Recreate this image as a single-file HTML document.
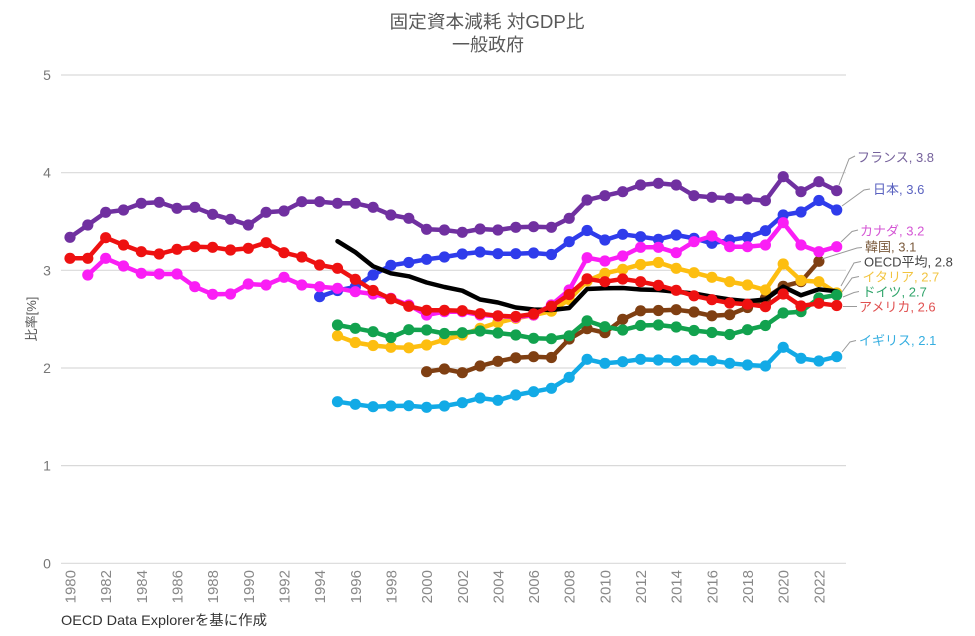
<!DOCTYPE html>
<html>
<head>
<meta charset="utf-8">
<style>
html,body{margin:0;padding:0;background:#fff;}
svg{display:block;}
text{font-family:"Liberation Sans","Noto Sans CJK JP",sans-serif;}
</style>
</head>
<body>
<svg width="975" height="636" viewBox="0 0 975 636" xmlns="http://www.w3.org/2000/svg">
<defs>
<marker id="mFr" markerUnits="userSpaceOnUse" viewBox="0 0 12 12" refX="6" refY="6" markerWidth="12" markerHeight="12"><circle cx="6" cy="6" r="5.6" fill="#7030A0"/></marker>
<marker id="mJp" markerUnits="userSpaceOnUse" viewBox="0 0 12 12" refX="6" refY="6" markerWidth="12" markerHeight="12"><circle cx="6" cy="6" r="5.6" fill="#2F3CEB"/></marker>
<marker id="mCa" markerUnits="userSpaceOnUse" viewBox="0 0 12 12" refX="6" refY="6" markerWidth="12" markerHeight="12"><circle cx="6" cy="6" r="5.6" fill="#FA1EF5"/></marker>
<marker id="mUs" markerUnits="userSpaceOnUse" viewBox="0 0 12 12" refX="6" refY="6" markerWidth="12" markerHeight="12"><circle cx="6" cy="6" r="5.6" fill="#EE1111"/></marker>
<marker id="mIt" markerUnits="userSpaceOnUse" viewBox="0 0 12 12" refX="6" refY="6" markerWidth="12" markerHeight="12"><circle cx="6" cy="6" r="5.6" fill="#FDBE10"/></marker>
<marker id="mDe" markerUnits="userSpaceOnUse" viewBox="0 0 12 12" refX="6" refY="6" markerWidth="12" markerHeight="12"><circle cx="6" cy="6" r="5.6" fill="#12A24E"/></marker>
<marker id="mKr" markerUnits="userSpaceOnUse" viewBox="0 0 12 12" refX="6" refY="6" markerWidth="12" markerHeight="12"><circle cx="6" cy="6" r="5.6" fill="#7F3F12"/></marker>
<marker id="mUk" markerUnits="userSpaceOnUse" viewBox="0 0 12 12" refX="6" refY="6" markerWidth="12" markerHeight="12"><circle cx="6" cy="6" r="5.6" fill="#12AAE6"/></marker>
</defs>

<!-- Title -->
<text x="487" y="28" font-size="18" fill="#595959" text-anchor="middle" textLength="195" lengthAdjust="spacingAndGlyphs">固定資本減耗 対GDP比</text>
<text x="488" y="51" font-size="18" fill="#595959" text-anchor="middle">一般政府</text>

<!-- Gridlines -->
<g stroke="#d9d9d9" stroke-width="1.2">
<line x1="61" y1="75" x2="846" y2="75"/>
<line x1="61" y1="172.7" x2="846" y2="172.7"/>
<line x1="61" y1="270.3" x2="846" y2="270.3"/>
<line x1="61" y1="368" x2="846" y2="368"/>
<line x1="61" y1="465.6" x2="846" y2="465.6"/>
<line x1="61" y1="563.3" x2="846" y2="563.3"/>
</g>

<!-- Y tick labels -->
<g font-size="14" fill="#777" text-anchor="middle">
<text x="47" y="80">5</text>
<text x="47" y="177.7">4</text>
<text x="47" y="275.3">3</text>
<text x="47" y="373">2</text>
<text x="47" y="470.6">1</text>
<text x="47" y="568.3">0</text>
</g>

<!-- Y axis title -->
<text transform="translate(36,319) rotate(-90)" font-size="13" fill="#555" text-anchor="middle">比率[%]</text>

<!-- X tick labels -->
<g font-size="15" fill="#888" text-anchor="end">
<text transform="translate(75.5,570) rotate(-90)">1980</text>
<text transform="translate(111.2,570) rotate(-90)">1982</text>
<text transform="translate(146.8,570) rotate(-90)">1984</text>
<text transform="translate(182.5,570) rotate(-90)">1986</text>
<text transform="translate(218.1,570) rotate(-90)">1988</text>
<text transform="translate(253.8,570) rotate(-90)">1990</text>
<text transform="translate(289.5,570) rotate(-90)">1992</text>
<text transform="translate(325.1,570) rotate(-90)">1994</text>
<text transform="translate(360.8,570) rotate(-90)">1996</text>
<text transform="translate(396.4,570) rotate(-90)">1998</text>
<text transform="translate(432.1,570) rotate(-90)">2000</text>
<text transform="translate(467.8,570) rotate(-90)">2002</text>
<text transform="translate(503.4,570) rotate(-90)">2004</text>
<text transform="translate(539.1,570) rotate(-90)">2006</text>
<text transform="translate(574.7,570) rotate(-90)">2008</text>
<text transform="translate(610.4,570) rotate(-90)">2010</text>
<text transform="translate(646.1,570) rotate(-90)">2012</text>
<text transform="translate(681.7,570) rotate(-90)">2014</text>
<text transform="translate(717.4,570) rotate(-90)">2016</text>
<text transform="translate(753.0,570) rotate(-90)">2018</text>
<text transform="translate(788.7,570) rotate(-90)">2020</text>
<text transform="translate(824.4,570) rotate(-90)">2022</text>
</g>

<!-- Source -->
<text x="61" y="625" font-size="14" fill="#333" textLength="206" lengthAdjust="spacingAndGlyphs">OECD Data Explorerを基に作成</text>

<!-- Series -->
<g fill="none" stroke-width="4.5" stroke-linejoin="round" stroke-linecap="round">
<!-- France -->
<polyline stroke="#7030A0" marker-start="url(#mFr)" marker-mid="url(#mFr)" marker-end="url(#mFr)" points="70.0,237.3 87.8,225 105.7,212.3 123.5,210 141.3,203.3 159.2,202.3 177.0,208.3 194.8,207.3 212.6,214.3 230.5,219.3 248.3,225 266.1,212.3 284.0,211 301.8,201.7 319.6,201.7 337.5,203.3 355.3,203.3 373.1,207.3 390.9,215 408.8,218.3 426.6,229.3 444.4,230 462.3,232.3 480.1,229 497.9,230 515.8,227.3 533.6,226.7 551.4,227.3 569.2,218.3 587.1,200 604.9,195.7 622.7,191.7 640.6,185 658.4,183.3 676.2,185 694.0,195.7 711.9,197.3 729.7,198.3 747.5,199 765.4,200.7 783.2,176.7 801.0,191.7 818.9,181.7 836.7,190.7"/>
<!-- Korea -->
<polyline stroke="#7F3F12" marker-start="url(#mKr)" marker-mid="url(#mKr)" marker-end="url(#mKr)" points="426.6,371.7 444.4,369 462.3,372.7 480.1,366 497.9,361.3 515.8,357.8 533.6,356.7 551.4,357.5 569.2,339 587.1,328.7 604.9,332.7 622.7,319.3 640.6,310.8 658.4,310.5 676.2,309.7 694.0,312 711.9,315.8 729.7,314.7 747.5,307.5 765.4,298.3 783.2,286.3 801.0,281.7 818.9,261.3"/>
<!-- Italy -->
<polyline stroke="#FDBE10" marker-start="url(#mIt)" marker-mid="url(#mIt)" marker-end="url(#mIt)" points="337.5,335.8 355.3,342.5 373.1,345.5 390.9,347.3 408.8,347.8 426.6,345 444.4,339.7 462.3,335 480.1,328.3 497.9,322.5 515.8,318.3 533.6,315 551.4,311.2 569.2,299.5 587.1,281 604.9,273.3 622.7,269.3 640.6,264.5 658.4,262.5 676.2,268.3 694.0,272.7 711.9,277.3 729.7,281.7 747.5,285 765.4,290 783.2,264 801.0,280.5 818.9,281.7 836.7,293"/>
<!-- Japan -->
<polyline stroke="#2F3CEB" marker-start="url(#mJp)" marker-mid="url(#mJp)" marker-end="url(#mJp)" points="319.6,296.7 337.5,290.5 355.3,287 373.1,275 390.9,265.3 408.8,262.5 426.6,259.3 444.4,257 462.3,254 480.1,252 497.9,253.7 515.8,253.7 533.6,253 551.4,254.5 569.2,241.7 587.1,230.5 604.9,240 622.7,234.3 640.6,236.7 658.4,239.3 676.2,235 694.0,238.3 711.9,243.3 729.7,240 747.5,237.3 765.4,230.7 783.2,215 801.0,212 818.9,200.5 836.7,210"/>
<!-- Canada -->
<polyline stroke="#FA1EF5" marker-start="url(#mCa)" marker-mid="url(#mCa)" marker-end="url(#mCa)" points="87.8,275 105.7,258.3 123.5,266 141.3,273.3 159.2,274 177.0,274 194.8,286.7 212.6,294.3 230.5,294 248.3,284 266.1,285 284.0,277.3 301.8,285 319.6,286.7 337.5,288.3 355.3,291.7 373.1,294 390.9,298.3 408.8,305 426.6,315 444.4,311.7 462.3,311.7 480.1,315 497.9,316 515.8,317.3 533.6,315 551.4,305 569.2,290 587.1,257.7 604.9,261 622.7,256 640.6,247.3 658.4,247.3 676.2,252.7 694.0,241.7 711.9,236 729.7,246.7 747.5,246.7 765.4,245 783.2,222.7 801.0,245 818.9,251.7 836.7,246.7"/>
<!-- OECD average -->
<polyline stroke="#000" stroke-width="4.5" points="337.5,241.2 355.3,252.2 373.1,266.3 390.9,273.3 408.8,276.3 426.6,282.5 444.4,287 462.3,290.7 480.1,299.5 497.9,302.5 515.8,307.5 533.6,309.5 551.4,310 569.2,308 587.1,289 604.9,288.3 622.7,288 640.6,289.5 658.4,290 676.2,291.7 694.0,293.5 711.9,296.7 729.7,299.5 747.5,301.2 765.4,299.5 783.2,286.7 801.0,295.3 818.9,289.3 836.7,291.3"/>
<!-- Germany -->
<polyline stroke="#12A24E" marker-start="url(#mDe)" marker-mid="url(#mDe)" marker-end="url(#mDe)" points="337.5,325 355.3,328.3 373.1,331.7 390.9,337.5 408.8,329.7 426.6,330 444.4,333.5 462.3,332.7 480.1,331 497.9,333 515.8,335 533.6,338.3 551.4,338.7 569.2,335.8 587.1,320.8 604.9,326.7 622.7,330 640.6,325.5 658.4,325 676.2,327 694.0,330.5 711.9,332.5 729.7,334.5 747.5,329.7 765.4,325.5 783.2,313 801.0,311.7 818.9,298 836.7,295"/>
<!-- USA -->
<polyline stroke="#EE1111" marker-start="url(#mUs)" marker-mid="url(#mUs)" marker-end="url(#mUs)" points="70.0,258.3 87.8,258.3 105.7,237.7 123.5,245 141.3,251.7 159.2,254 177.0,249.3 194.8,246.7 212.6,247.3 230.5,250 248.3,248.3 266.1,242.7 284.0,252.7 301.8,257 319.6,265 337.5,268.3 355.3,279.3 373.1,290.5 390.9,298.8 408.8,306.3 426.6,310.3 444.4,310.3 462.3,310.7 480.1,313.7 497.9,315.8 515.8,316.5 533.6,314 551.4,306.3 569.2,294.5 587.1,278.8 604.9,281.7 622.7,279 640.6,281.7 658.4,285.3 676.2,290.3 694.0,295.8 711.9,299.7 729.7,303 747.5,304.2 765.4,306.7 783.2,294 801.0,306 818.9,303.3 836.7,305.5"/>
<!-- UK -->
<polyline stroke="#12AAE6" marker-start="url(#mUk)" marker-mid="url(#mUk)" marker-end="url(#mUk)" points="337.5,401.7 355.3,404.3 373.1,406.7 390.9,406 408.8,405.7 426.6,407.3 444.4,406 462.3,402.7 480.1,398 497.9,400.3 515.8,395 533.6,391.7 551.4,388.3 569.2,377.3 587.1,359.3 604.9,363.3 622.7,361.7 640.6,359.3 658.4,360 676.2,360.7 694.0,360 711.9,360.7 729.7,363.3 747.5,365 765.4,366 783.2,347.3 801.0,358.3 818.9,361 836.7,356.7"/>
</g>

<!-- Leader lines -->
<g fill="none" stroke="#9a9a9a" stroke-width="1">
<polyline points="839,185 849,159 855,156"/>
<polyline points="842,206 864,190 870,189"/>
<polyline points="841,242 852,231.5 858,230"/>
<polyline points="822,259 857,248 862,247.5"/>
<polyline points="841,286 854,263 861,261.5"/>
<polyline points="842,292 852,278 859,276.5"/>
<polyline points="843,297 854,292.5 859,291.5"/>
<polyline points="843,306.5 857,306.5"/>
<polyline points="842,352 850,342 856,340.5"/>
</g>

<!-- Series labels -->
<g font-size="13">
<text x="857" y="162" fill="#76629c">フランス, 3.8</text>
<text x="873" y="194" fill="#5a62c0">日本, 3.6</text>
<text x="860" y="235.5" fill="#d455d4">カナダ, 3.2</text>
<text x="865" y="251.5" fill="#7a5a3c">韓国, 3.1</text>
<text x="864" y="266.5" fill="#444">OECD平均, 2.8</text>
<text x="862.5" y="281.5" fill="#f2c440">イタリア, 2.7</text>
<text x="862.5" y="296.5" fill="#2fa46a">ドイツ, 2.7</text>
<text x="859" y="311.5" fill="#e05050">アメリカ, 2.6</text>
<text x="859" y="345" fill="#35aee0">イギリス, 2.1</text>
</g>
</svg>
</body>
</html>
